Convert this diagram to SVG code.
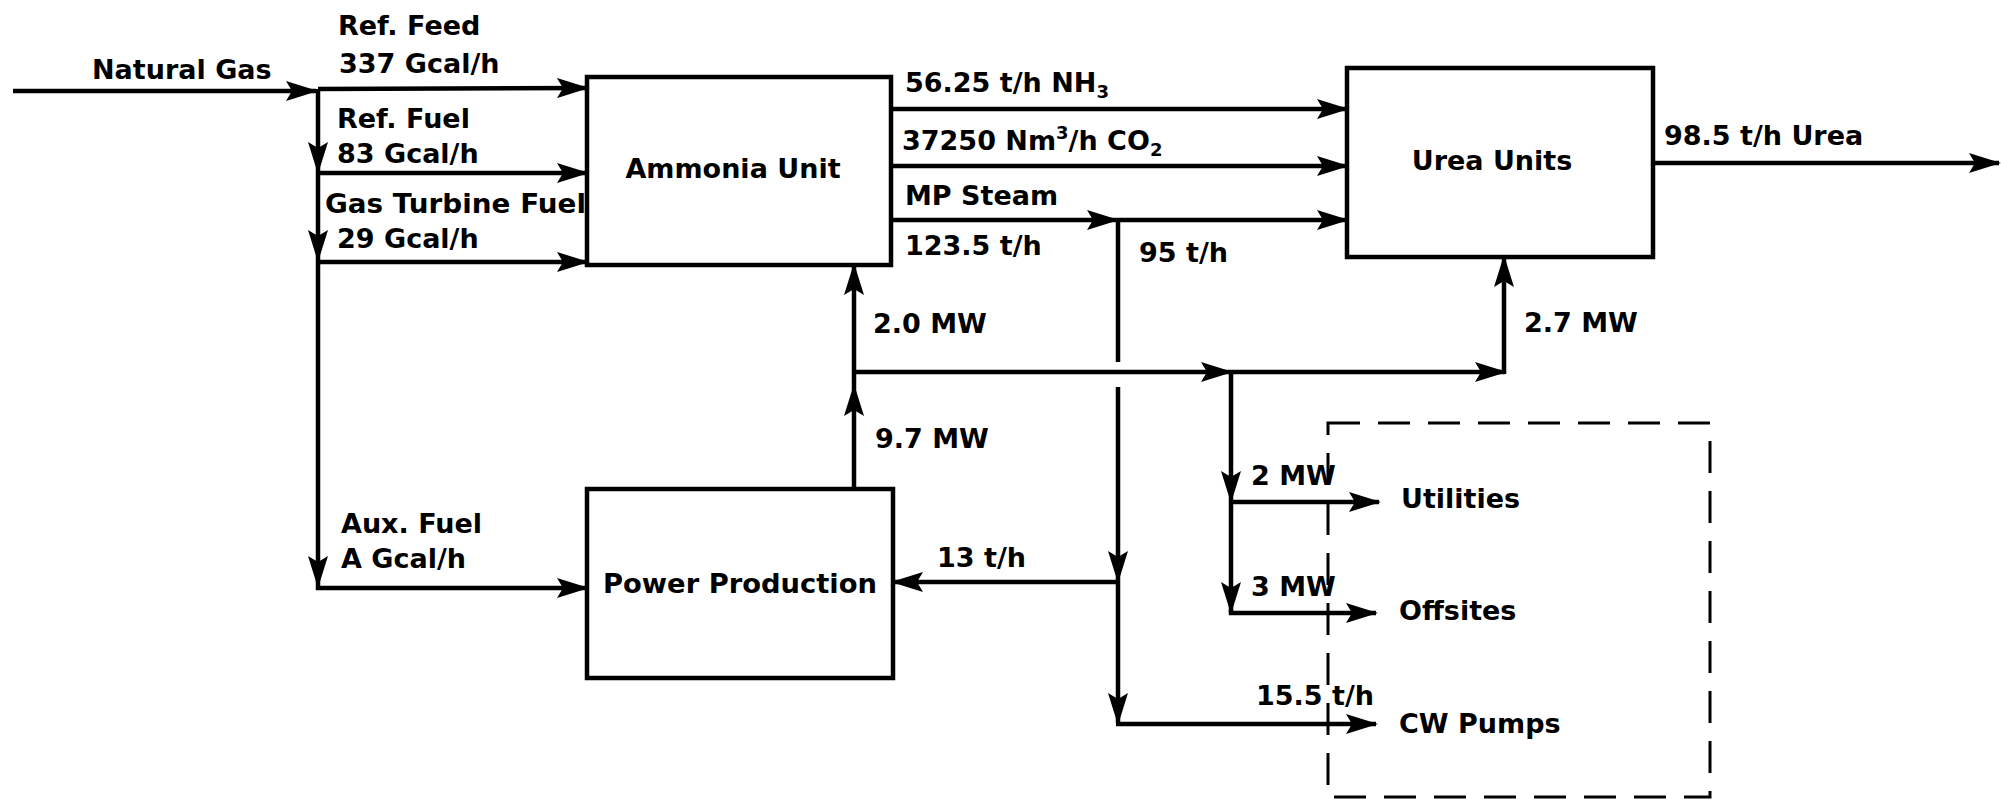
<svg xmlns="http://www.w3.org/2000/svg" width="2001" height="801" viewBox="0 0 2001 801">
<style>
.t{font-family:"DejaVu Sans","Liberation Sans",sans-serif;font-weight:bold;font-size:27px;fill:#000}
.box{fill:#fff;stroke:#000;stroke-width:4.5}
.ln{fill:none;stroke:#000;stroke-width:4.5}
.ar{fill:none;stroke:#000;stroke-width:4.5;marker-end:url(#ah)}
.dash{fill:none;stroke:#000;stroke-width:3;stroke-dasharray:32 18}
</style>
<defs>
<marker id="ah" viewBox="0 0 32 20" refX="30" refY="10" markerUnits="userSpaceOnUse" markerWidth="32" markerHeight="20" orient="auto">
<path d="M0,0 L32,10 L0,20 L6,10 z" fill="#000"/>
</marker>
</defs>
<g id="ammonia-unit">
<rect class="box" x="587" y="77" width="304" height="188"/>
<text class="t" x="733" y="178" text-anchor="middle">Ammonia Unit</text>
</g>
<g id="urea-units">
<rect class="box" x="1347" y="68" width="306" height="189"/>
<text class="t" x="1492" y="170" text-anchor="middle">Urea Units</text>
</g>
<g id="power-production">
<rect class="box" x="587" y="489" width="306" height="189"/>
<text class="t" x="740" y="593" text-anchor="middle" textLength="274" lengthAdjust="spacingAndGlyphs">Power Production</text>
</g>
<g id="offsite-group">
<rect class="dash" x="1328" y="423" width="382" height="374"/>
<text class="t" x="1401" y="508">Utilities</text>
<text class="t" x="1399" y="620">Offsites</text>
<text class="t" x="1399" y="733">CW Pumps</text>
</g>
<g id="connectors">
<path class="ar" d="M13,91 L316,91"/>
<path class="ar" d="M318,89 L587,88"/>
<path class="ar" d="M318,89 L318,172"/>
<path class="ar" d="M318,172 L318,260"/>
<path class="ar" d="M318,260 L318,586"/>
<path class="ln" d="M318,586 L318,590"/>
<path class="ar" d="M318,173 L587,173"/>
<path class="ar" d="M318,262 L587,262"/>
<path class="ar" d="M316,588 L587,588"/>
<path class="ar" d="M891,109 L1347,109"/>
<path class="ar" d="M891,166 L1347,166"/>
<path class="ar" d="M891,220 L1117,220"/>
<path class="ar" d="M1117,220 L1347,220"/>
<path class="ln" d="M1118,218 L1118,362"/>
<path class="ar" d="M1118,387 L1118,581"/>
<path class="ar" d="M1118,581 L1118,723"/>
<path class="ar" d="M1120,582 L893,582"/>
<path class="ar" d="M1116,724 L1376,724"/>
<path class="ar" d="M854,489 L854,386"/>
<path class="ar" d="M854,386 L854,265"/>
<path class="ar" d="M852,372 L1231,372"/>
<path class="ar" d="M1231,372 L1505,372"/>
<path class="ar" d="M1504,374 L1504,257"/>
<path class="ar" d="M1231,370 L1231,501"/>
<path class="ar" d="M1231,501 L1231,612"/>
<path class="ln" d="M1231,610 L1231,615"/>
<path class="ar" d="M1229,502 L1379,502"/>
<path class="ar" d="M1229,613 L1376,613"/>
<path class="ar" d="M1653,163 L1999,163"/>
</g>
<g id="labels">
<text class="t" x="92" y="79">Natural Gas</text>
<text class="t" x="338" y="35">Ref. Feed</text>
<text class="t" x="339" y="73">337 Gcal/h</text>
<text class="t" x="337" y="128">Ref. Fuel</text>
<text class="t" x="337" y="163">83 Gcal/h</text>
<text class="t" x="325" y="213" textLength="261" lengthAdjust="spacingAndGlyphs">Gas Turbine Fuel</text>
<text class="t" x="337" y="248">29 Gcal/h</text>
<text class="t" x="905" y="92">56.25 t/h NH<tspan font-size="18" dy="6">3</tspan></text>
<text class="t" x="902" y="150">37250 Nm<tspan font-size="18" dy="-11">3</tspan><tspan dy="11">/h CO</tspan><tspan font-size="18" dy="6">2</tspan></text>
<text class="t" x="905" y="205">MP Steam</text>
<text class="t" x="905" y="255">123.5 t/h</text>
<text class="t" x="1139" y="262">95 t/h</text>
<text class="t" x="1664" y="145">98.5 t/h Urea</text>
<text class="t" x="873" y="333">2.0 MW</text>
<text class="t" x="875" y="448">9.7 MW</text>
<text class="t" x="1524" y="332">2.7 MW</text>
<text class="t" x="341" y="533">Aux. Fuel</text>
<text class="t" x="341" y="568">A Gcal/h</text>
<text class="t" x="937" y="567">13 t/h</text>
<text class="t" x="1251" y="485">2 MW</text>
<text class="t" x="1251" y="596">3 MW</text>
<text class="t" x="1256" y="705">15.5 t/h</text>
</g>
</svg>
